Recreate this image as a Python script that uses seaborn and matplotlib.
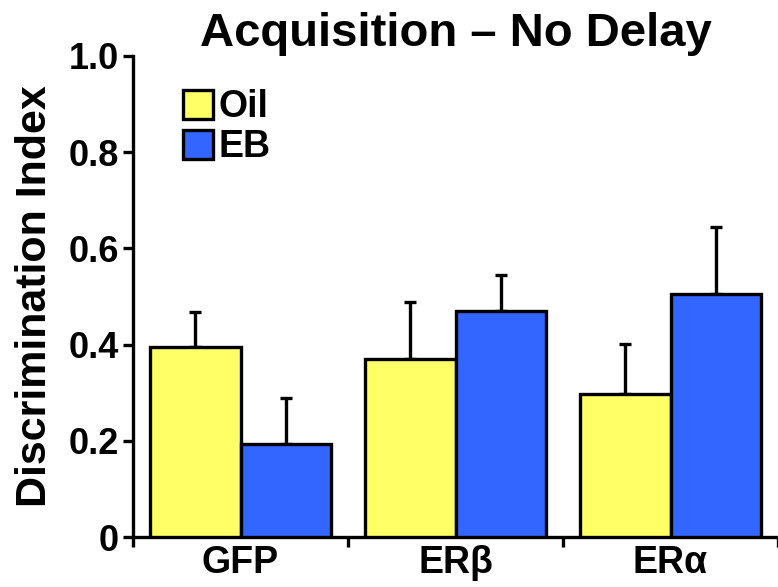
import pandas as pd
import seaborn as sns
import matplotlib.pyplot as plt
from matplotlib.ticker import FixedLocator, FuncFormatter

# Data
groups = ['GFP', 'ERβ', 'ERα']
treatments = ['Oil', 'EB']
oil_means = [0.394, 0.371, 0.298]
eb_means = [0.194, 0.469, 0.506]
oil_err = [0.073, 0.117, 0.104]
eb_err = [0.096, 0.075, 0.138]

df = pd.DataFrame({
    'group': groups * 2,
    'treatment': ['Oil'] * 3 + ['EB'] * 3,
    'value': oil_means + eb_means,
    'err': oil_err + eb_err,
})

sns.set_style('ticks')
plt.rcParams['font.family'] = ['Liberation Sans', 'DejaVu Sans']
plt.rcParams['font.weight'] = 'bold'
plt.rcParams['text.color'] = 'black'
plt.rcParams['axes.labelcolor'] = 'black'
plt.rcParams['xtick.color'] = 'black'
plt.rcParams['ytick.color'] = 'black'
plt.rcParams['axes.edgecolor'] = 'black'

fig = plt.figure(figsize=(7.78, 5.87), dpi=100)
ax = fig.add_axes([0.171, 0.085, 0.829, 0.820])

palette = {'Oil': '#FFFF66', 'EB': '#3366FF'}
sns.barplot(data=df, x='group', y='value', hue='treatment', order=groups,
            hue_order=treatments, palette=palette, errorbar=None, width=0.84,
            edgecolor='black', linewidth=2.4, saturation=1, ax=ax, zorder=3)

# upward-only error bars, centred on each bar
for container, t in zip(ax.containers, treatments):
    sub = df[df['treatment'] == t].set_index('group').loc[groups]
    xs = [p.get_x() + p.get_width() / 2 for p in container.patches]
    ax.errorbar(xs, sub['value'], yerr=[[0] * len(xs), sub['err']], fmt='none',
                ecolor='black', elinewidth=2.4, capsize=4, capthick=2.4, zorder=2)

ax.set_xlim(-0.5, 2.5)
ax.set_ylim(0, 1.0)
ax.set_yticks([0, 0.2, 0.4, 0.6, 0.8, 1.0])
ax.yaxis.set_major_formatter(FuncFormatter(lambda v, p: '0' if v == 0 else f'{v:.1f}'))
ax.xaxis.set_minor_locator(FixedLocator([-0.5, 0.5, 1.5, 2.5]))
ax.tick_params(axis='x', which='major', length=0, labelsize=27, pad=6)
ax.tick_params(axis='x', which='minor', length=7, width=2.4, direction='out')
ax.tick_params(axis='y', length=7, width=2.4, labelsize=26, pad=3)
for lab in ax.get_xticklabels() + ax.get_yticklabels():
    lab.set_fontweight('bold')

sns.despine(ax=ax)
for s in ['left', 'bottom']:
    ax.spines[s].set_linewidth(2.4)

ax.set_xlabel('')
ax.set_ylabel('Discrimination Index', fontsize=31, fontweight='bold', labelpad=10)
ax.set_title('Acquisition – No Delay', fontsize=34, fontweight='bold', pad=6)

leg = ax.legend(loc='upper left', bbox_to_anchor=(0.078, 0.93), frameon=False,
                fontsize=27, handlelength=0.8, handleheight=0.8,
                handletextpad=0.15, labelspacing=0.1, borderaxespad=0,
                borderpad=0)
for t in leg.get_texts():
    t.set_fontweight('bold')

fig.savefig('out.png', dpi=100)
